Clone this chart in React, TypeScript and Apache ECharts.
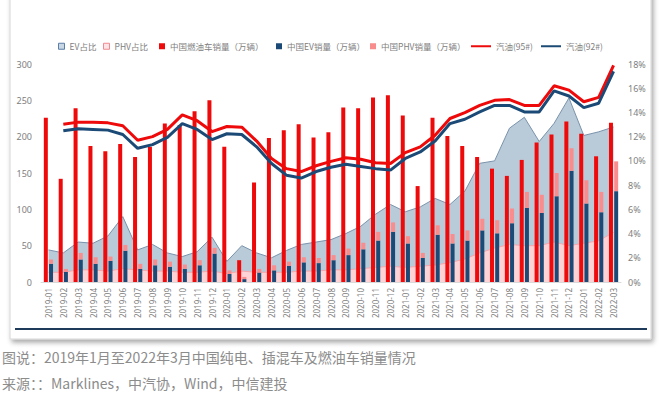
import React, { useEffect, useRef } from "react";
import * as echarts from "echarts";

const categories = [
  "2019-01","2019-02","2019-03","2019-04","2019-05","2019-06","2019-07","2019-08","2019-09","2019-10","2019-11","2019-12",
  "2020-01","2020-02","2020-03","2020-04","2020-05","2020-06","2020-07","2020-08","2020-09","2020-10","2020-11","2020-12",
  "2021-01","2021-02","2021-03","2021-04","2021-05","2021-06","2021-07","2021-08","2021-09","2021-10","2021-11","2021-12",
  "2022-01","2022-02","2022-03",
];

// 中国燃油车销量（万辆）
const fuelSales = [
  226,142,239,187,180,190,172,186,218,216,235,250,
  186,30,137,198,209,217,199,206,240,239,254,257,
  229,132,226,201,187,172,156,146,168,192,203,221,
  204,173,219,
];
// 中国EV销量（万辆）
const evSales = [
  25,14,31,25,29,43,18,23,21,18,23,39,
  11,4,13,16,22,27,26,30,37,45,57,69,
  53,33,65,53,57,71,67,81,102,95,118,153,
  108,96,125,
];
// 中国PHV销量（万辆）
const phvSales = [
  6,4,9,9,6,8,7,8,7,6,7,8,
  5,3,5,7,6,7,7,7,9,9,12,13,
  10,7,13,13,14,16,18,20,22,25,32,31,
  32,28,41,
];
// EV占比 (%)
const evShare = [
  2.65,2.4,3.3,3.2,3.8,5.4,2.65,3.1,2.4,2.1,2.5,3.7,
  1.7,3.0,2.4,2.0,2.6,3.1,3.3,3.5,4.0,4.6,5.6,6.4,
  5.8,6.2,6.9,6.4,7.5,9.8,10.0,12.7,13.6,11.6,13.1,15.2,
  12.1,12.4,12.8,
];
// PHV占比 (%)
const phvShare = [
  0.8,0.8,1.0,1.0,0.9,1.1,1.0,0.9,0.9,0.8,0.8,0.9,
  0.7,0.9,0.8,0.8,0.8,0.9,0.9,1.0,1.0,1.1,1.2,1.3,
  1.2,1.3,1.4,1.6,1.9,2.4,2.8,3.1,3.0,3.0,3.3,3.0,
  3.2,3.4,4.1,
];
// 汽油(95#)
const gas95 = [
  null,217,220,220,219,215,195,200,210,230,222,207,
  214,213,194,170,156,152,160,166,171,169,164,163,
  178,186,202,225,233,243,250,251,243,243,270,264,
  248,254,298,
];
// 汽油(92#)
const gas92 = [
  null,208,211,210,209,203,184,189,199,218,210,196,
  204,203,186,163,147,143,152,158,162,159,156,154,
  170,179,194,218,224,234,243,243,234,234,263,256,
  240,246,290,
];

const leftMax = 300;
const leftInterval = 50;
const rightMax = 18;
const rightInterval = 2;

const caption1 = "图说：2019年1月至2022年3月中国纯电、插混车及燃油车销量情况";
const caption2 = "来源：：Marklines，中汽协，Wind，中信建投";

const RED = "#ee0a0a";
const NAVY = "#1c4a76";
const PINK = "#f98c8c";
const EV_AREA = "#b9cad9";
const EV_LINE = "#7a93ab";
const PHV_AREA = "#fdd3d6";
const PHV_LINE = "#f2a7ad";
const GRAY = "#808080";

const legendFont = { fontSize: 8.5, color: GRAY, fontFamily: "'Noto Sans CJK SC', sans-serif" };

function sqLegend(name: string, left: number, itemStyle: any) {
  return {
    left,
    top: 37,
    itemWidth: 6,
    itemHeight: 6,
    textStyle: legendFont,
    selectedMode: false,
    data: [{ name, icon: "rect", itemStyle }],
  };
}
function lineLegend(name: string, left: number, color: string) {
  return {
    left,
    top: 37,
    itemWidth: 20,
    itemHeight: 2,
    textStyle: legendFont,
    selectedMode: false,
    data: [{ name, icon: "rect", itemStyle: { color } }],
  };
}

export default function App() {
  const ref = useRef<HTMLDivElement>(null);
  useEffect(() => {
    if (!ref.current) return;
    const chart = echarts.init(ref.current, null, { renderer: "svg" });
    chart.setOption({
      animation: false,
      backgroundColor: "#ffffff",
      textStyle: { fontFamily: "'Noto Sans', 'Noto Sans CJK SC', sans-serif" },
      graphic: [
        {
          type: "rect",
          z: -10,
          shape: { x: 10, y: -10, width: 641, height: 349 },
          style: {
            fill: "#ffffff",
            stroke: "#d6d6d6",
            lineWidth: 1,
            shadowBlur: 5,
            shadowColor: "rgba(0,0,0,0.35)",
            shadowOffsetX: 2,
            shadowOffsetY: 3,
          },
        },
        {
          type: "line",
          z: -5,
          shape: { x1: 15, y1: 329, x2: 647, y2: 329 },
          style: { stroke: "#1f3b5c", lineWidth: 2 },
        },
        {
          type: "text",
          x: 2,
          y: 357,
          style: {
            text: caption1,
            fill: "#8c8c8c",
            font: "14px 'Noto Sans CJK SC', sans-serif",
            verticalAlign: "middle",
          },
        },
        {
          type: "text",
          x: 2,
          y: 383,
          style: {
            text: caption2,
            fill: "#8c8c8c",
            font: "14px 'Noto Sans CJK SC', sans-serif",
            verticalAlign: "middle",
          },
        },
      ],
      legend: [
        sqLegend("EV占比", 53, { color: "#c9d7e4", borderColor: "#5a7fa6", borderWidth: 1 }),
        sqLegend("PHV占比", 98, { color: "#fde3e5", borderColor: "#f08a92", borderWidth: 1 }),
        sqLegend("中国燃油车销量（万辆）", 154, { color: RED }),
        sqLegend("中国EV销量（万辆）", 271, { color: NAVY }),
        sqLegend("中国PHV销量（万辆）", 365, { color: PINK }),
        lineLegend("汽油(95#)", 466, RED),
        lineLegend("汽油(92#)", 536, NAVY),
      ],
      grid: { left: 41, right: 42, top: 64, bottom: 113, containLabel: false },
      xAxis: {
        type: "category",
        data: categories,
        boundaryGap: true,
        axisTick: { show: false },
        axisLine: { show: true, lineStyle: { color: "#d9d9d9" } },
        axisLabel: { rotate: 90, interval: 0, fontSize: 8, color: GRAY, margin: 6 },
      },
      yAxis: [
        {
          type: "value",
          min: 0,
          max: leftMax,
          interval: leftInterval,
          splitLine: { show: false },
          axisLine: { show: false },
          axisTick: { show: false },
          axisLabel: { fontSize: 9, color: GRAY, margin: 9 },
        },
        {
          type: "value",
          min: 0,
          max: rightMax,
          interval: rightInterval,
          position: "right",
          splitLine: { show: false },
          axisLine: { show: false },
          axisTick: { show: false },
          axisLabel: { fontSize: 9, color: GRAY, margin: 7, formatter: "{value}%" },
        },
      ],
      series: [
        {
          name: "EV占比",
          type: "line",
          yAxisIndex: 1,
          z: 1,
          data: evShare,
          symbol: "none",
          lineStyle: { color: EV_LINE, width: 1 },
          itemStyle: { color: EV_AREA },
          areaStyle: { color: EV_AREA, opacity: 1 },
        },
        {
          name: "PHV占比",
          type: "line",
          yAxisIndex: 1,
          z: 1,
          data: phvShare,
          symbol: "none",
          lineStyle: { color: PHV_LINE, width: 1 },
          itemStyle: { color: PHV_AREA },
          areaStyle: { color: PHV_AREA, opacity: 1 },
        },
        {
          name: "中国燃油车销量（万辆）",
          type: "bar",
          z: 3,
          data: fuelSales,
          barWidth: 4,
          barGap: "30%",
          itemStyle: { color: RED },
        },
        {
          name: "中国EV销量（万辆）",
          type: "bar",
          z: 3,
          stack: "nev",
          data: evSales,
          barWidth: 4,
          barGap: "30%",
          itemStyle: { color: NAVY },
        },
        {
          name: "中国PHV销量（万辆）",
          type: "bar",
          z: 3,
          stack: "nev",
          data: phvSales,
          barWidth: 4,
          barGap: "30%",
          itemStyle: { color: PINK },
        },
        {
          name: "汽油(95#)",
          type: "line",
          z: 5,
          data: gas95,
          symbol: "none",
          connectNulls: false,
          lineStyle: { color: RED, width: 3 },
          itemStyle: { color: RED },
        },
        {
          name: "汽油(92#)",
          type: "line",
          z: 5,
          data: gas92,
          symbol: "none",
          connectNulls: false,
          lineStyle: { color: NAVY, width: 3 },
          itemStyle: { color: NAVY },
        },
      ],
    });
    return () => chart.dispose();
  }, []);
  return (
    <div
      ref={ref}
      style={{ position: "absolute", left: 0, top: 0, width: 663, height: 395 }}
    />
  );
}
